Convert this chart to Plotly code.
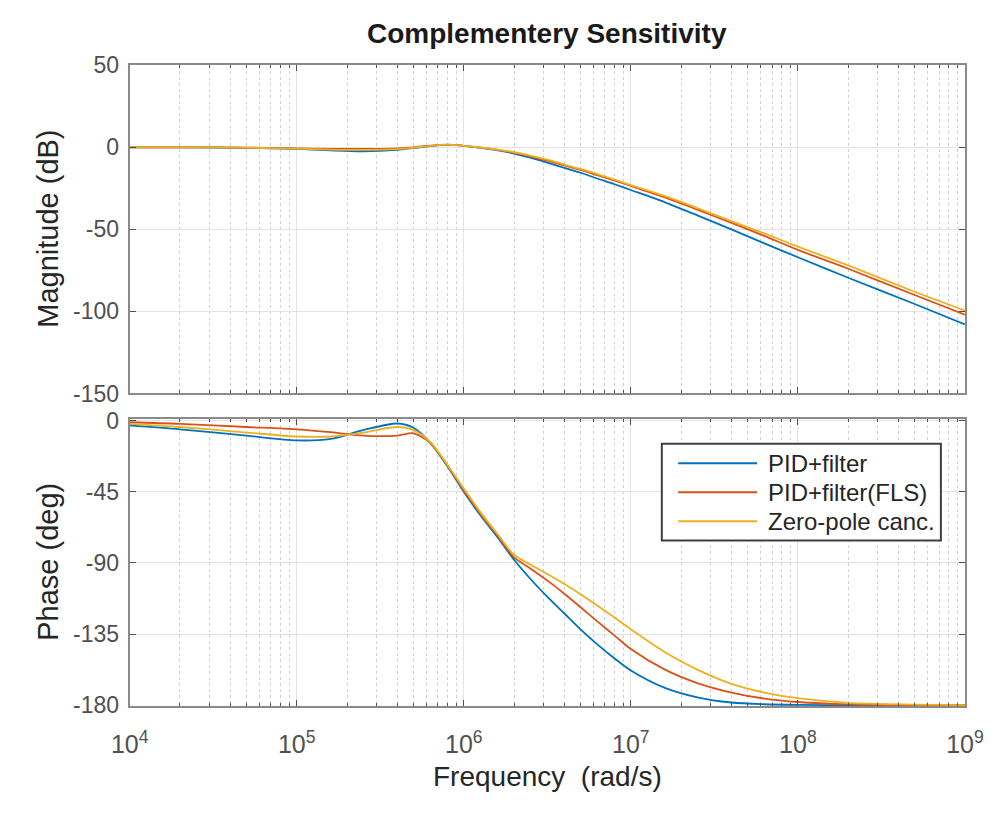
import plotly.graph_objects as go

freq = [1e4, 2e4, 5e4, 1e5, 1.6e5, 2.5e5, 4e5, 5e5, 6.3e5, 8e5, 1e6, 1.26e6, 1.6e6, 2e6,
        2.5e6, 3.2e6, 4e6, 5e6, 6.3e6, 8e6, 1e7, 1.6e7, 2.5e7, 4e7, 6.3e7, 1e8,
        2e8, 5e8, 1e9]

mag_pid = [0, 0, -0.3, -1.0, -1.9, -2.4, -1.5, -0.5, 0.8, 1.5, 0.9, -0.3, -1.8, -3.8,
           -6.3, -9.5, -12.5, -15.5, -19, -22.5, -26, -33.5, -41.5, -50, -58.5, -67,
           -79.5, -95.5, -108]
mag_fls = [0, 0, -0.2, -0.6, -0.9, -1.0, -0.6, 0, 1.0, 1.6, 0.9, -0.2, -1.5, -3.3,
           -5.5, -8.3, -11, -13.8, -17, -20.3, -23.5, -30.5, -38, -46, -54, -62.5,
           -74, -90, -102]
mag_zpc = [0, 0, -0.2, -0.8, -1.4, -1.6, -1.1, -0.3, 0.9, 1.6, 0.9, -0.1, -1.4, -3.0,
           -5.0, -7.7, -10.5, -13.2, -16.3, -19.7, -23, -29.8, -37, -45, -52.5, -60.5,
           -72, -88, -99.5]

ph_pid = [-3, -5.5, -9.5, -12.5, -11.5, -6, -1.8, -4.5, -14, -29, -45, -60, -74, -88,
          -100, -112, -122, -132, -141.5, -150.5, -158, -169, -175, -178.3, -179.4, -179.8,
          -180, -180, -180]
ph_fls = [-1, -2, -4, -5.5, -7.3, -9.5, -9.5, -8, -14, -28.5, -44, -59, -73, -86.5,
          -93.5, -101.5, -109.5, -118, -127, -136, -144.5, -157.5, -166, -172, -175.8, -178,
          -179.5, -180, -180]
ph_zpc = [-2, -4, -7.5, -10, -10, -7.5, -4, -6, -13.5, -28, -43, -58, -72, -85,
          -91, -97.3, -103.3, -109.8, -117, -124.5, -132, -146.5, -157.5, -166.5, -172, -175.5,
          -178.5, -179.6, -180]

names = ["PID+filter", "PID+filter(FLS)", "Zero-pole canc."]
colors = ["#0072BD", "#D95319", "#EDB120"]

mag_ticks = [50, 0, -50, -100, -150]
mag_ticktext = ["50", "0", "-50", "-100", "-150"]
ph_ticks = [0, -45, -90, -135, -180]
ph_ticktext = ["0", "-45", "-90", "-135", "-180"]
x_tickvals = [1e4, 1e5, 1e6, 1e7, 1e8, 1e9]
x_ticktext = ["10<sup>4</sup>", "10<sup>5</sup>", "10<sup>6</sup>",
              "10<sup>7</sup>", "10<sup>8</sup>", "10<sup>9</sup>"]

minor_vals = [m * 10 ** e for e in range(4, 9) for m in range(2, 10)]

FONT = "Liberation Sans, Arial, Helvetica, sans-serif"
W, H = 1008, 814

fig = go.Figure()
for mag, ph, name, c in zip([mag_pid, mag_fls, mag_zpc], [ph_pid, ph_fls, ph_zpc], names, colors):
    fig.add_trace(go.Scatter(x=freq, y=mag, mode="lines",
                             line=dict(color=c, width=1.8, shape="spline", smoothing=0.8),
                             name=name, showlegend=False, xaxis="x", yaxis="y"))
    fig.add_trace(go.Scatter(x=freq, y=ph, mode="lines",
                             line=dict(color=c, width=1.8, shape="spline", smoothing=0.8),
                             name=name, showlegend=False, xaxis="x2", yaxis="y2"))

axcol = "#8a8a8a"
gridcol = "#e3e3e3"
tickfont = dict(family=FONT, size=23, color="#505050")

xcommon = dict(type="log", range=[4, 9], showline=True, linecolor=axcol, linewidth=2, mirror="ticks",
               ticks="inside", ticklen=6, tickcolor="#505050", showgrid=True, gridcolor=gridcol, gridwidth=1,
               tickvals=x_tickvals, zeroline=False,
               minor=dict(tickvals=minor_vals, showgrid=True, gridcolor="#d0d0d0", griddash="dot",
                          ticks="inside", ticklen=3, tickcolor="#505050"))
ycommon = dict(showline=True, linecolor=axcol, linewidth=2, mirror="ticks", ticks="inside", ticklen=6,
               tickcolor="#505050", showgrid=True, gridcolor=gridcol, gridwidth=1, zeroline=False,
               tickfont=tickfont, ticklabelstandoff=4)

x0, x1 = 115 / W, 983 / W
top_dom = [1 - 393 / H, 1 - 54 / H]
bot_dom = [1 - 716 / H, 1 - 419 / H]

# manual legend box (MATLAB style)
lx0, lx1, ly0, ly1 = 668, 958, 445, 545
shapes = [dict(type="rect", xref="paper", yref="paper", x0=lx0 / W, x1=lx1 / W, y0=1 - ly1 / H, y1=1 - ly0 / H,
               line=dict(color="#404040", width=2), fillcolor="white", layer="above")]
annotations = []
rows = [465, 495, 525]
for name, c, ry in zip(names, colors, rows):
    shapes.append(dict(type="line", xref="paper", yref="paper", x0=685 / W, x1=767 / W,
                       y0=1 - ry / H, y1=1 - ry / H, line=dict(color=c, width=2), layer="above"))
    annotations.append(dict(text=name, x=776 / W, y=1 - ry / H, xref="paper", yref="paper",
                            xanchor="left", yanchor="middle", showarrow=False,
                            font=dict(family=FONT, size=24, color="#262626")))

annotations += [
    dict(text="<b>Complementery Sensitivity</b>", x=549 / W, y=1 - 21 / H, xref="paper", yref="paper",
         xanchor="center", yanchor="middle", showarrow=False,
         font=dict(family=FONT, size=28, color="#1a1a1a")),
    dict(text="Magnitude (dB)", x=30 / W, y=1 - 223 / H, xref="paper", yref="paper", textangle=-90,
         xanchor="center", yanchor="middle", showarrow=False,
         font=dict(family=FONT, size=29, color="#262626")),
    dict(text="Phase (deg)", x=30 / W, y=1 - 567 / H, xref="paper", yref="paper", textangle=-90,
         xanchor="center", yanchor="middle", showarrow=False,
         font=dict(family=FONT, size=29, color="#262626")),
    dict(text="Frequency  (rad/s)", x=549 / W, y=1 - 789 / H, xref="paper", yref="paper",
         xanchor="center", yanchor="middle", showarrow=False,
         font=dict(family=FONT, size=28, color="#262626")),
]

fig.update_layout(
    width=W, height=H, margin=dict(l=0, r=0, t=0, b=0),
    paper_bgcolor="white", plot_bgcolor="white", showlegend=False,
    xaxis=dict(domain=[x0, x1], anchor="y", showticklabels=False, **xcommon),
    xaxis2=dict(domain=[x0, x1], anchor="y2", matches="x", showticklabels=True, ticktext=x_ticktext,
                tickfont=dict(family=FONT, size=25, color="#505050"), ticklabelstandoff=15,
                **xcommon),
    yaxis=dict(domain=top_dom, anchor="x", range=[-150, 50], tickvals=mag_ticks, ticktext=mag_ticktext,
               **ycommon),
    yaxis2=dict(domain=bot_dom, anchor="x2", range=[-180.6, 1.3], tickvals=ph_ticks, ticktext=ph_ticktext,
                **ycommon),
    shapes=shapes,
    annotations=annotations,
)

fig.write_html("out.html")
